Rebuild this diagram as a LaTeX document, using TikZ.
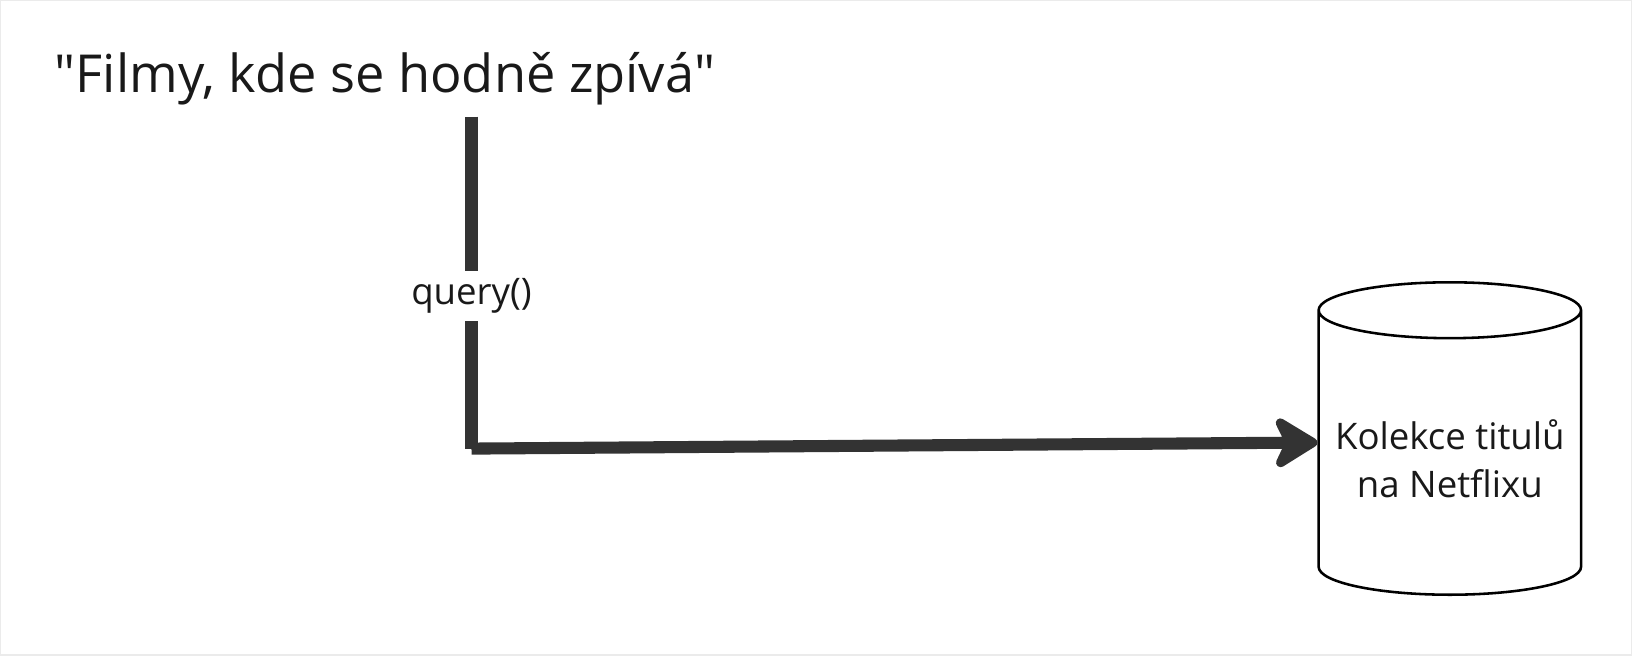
\documentclass[tikz,border=0pt]{standalone}
\usepackage{fontspec}
\setmainfont{Open Sans}
\usetikzlibrary{arrows.meta,shapes.geometric,positioning}

\begin{document}
\begin{tikzpicture}[x=0.01cm,y=-0.01cm,>={Stealth[length=14pt,width=17pt,inset=4pt,round]}]
\tikzstyle{every node}=[text=black!90, font=\fontsize{10pt}{13pt}\selectfont]
\tikzstyle{conn}=[draw=black!80, line width=3.3pt, miter limit=10]
\tikzstyle{store}=[cylinder, shape border rotate=90, draw=black, line width=0.7pt,
  aspect=0.22, minimum width=2.52cm, minimum height=3cm, align=center, fill=white]
\useasboundingbox (0,0) rectangle (1568,630);
\draw[black!8] (0.5,0.5) rectangle (1567.5,629.5);
\node[font=\fontsize{14.3pt}{17pt}\selectfont] at (370,76) (title) {\textquotedbl Filmy, kde se hodně zpívá\textquotedbl};
\coordinate (qstart) at (453,112);
\coordinate (bend) at (453,431);
\node[store] at (1393,441) (db) {Kolekce titulů\\na Netflixu};
 %paths
 \draw[conn] (qstart) -- node[fill=white, pos=0.54, inner sep=2pt]{query()} (bend);
 \draw[conn,->] (bend) -- ([yshift=4.5pt]db.west);
\end{tikzpicture}
\end{document}
